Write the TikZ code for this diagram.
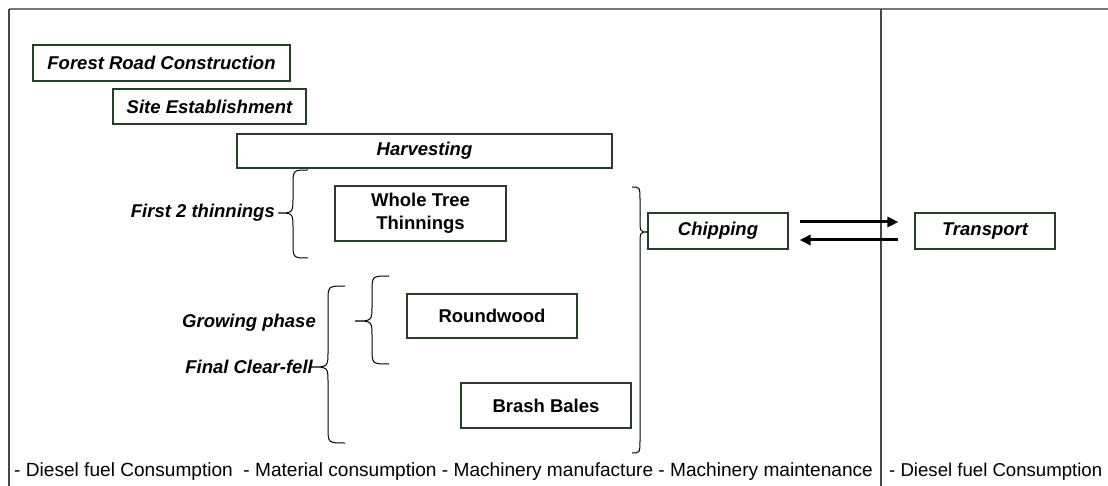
\documentclass[tikz,border=0pt]{standalone}
\usepackage{fontspec}
\setmainfont{Liberation Sans}
\usetikzlibrary{arrows.meta}
\definecolor{boxc}{RGB}{40,62,40}
\definecolor{framec}{RGB}{70,70,70}
\definecolor{topc}{RGB}{120,120,120}
\newcommand{\mybraceL}[6]{% x, top, tip, bottom, rh, rv
  \draw[bracestyle] (#1+#5,#2) .. controls (#1,#2) .. (#1,#2+#6) -- (#1,#3-#6)
    .. controls (#1,#3) .. (#1-#5,#3) .. controls (#1,#3) .. (#1,#3+#6)
    -- (#1,#4-#6) .. controls (#1,#4) .. (#1+#5,#4);}
\newcommand{\mybraceR}[6]{%
  \draw[bracestyle] (#1-#5,#2) .. controls (#1,#2) .. (#1,#2+#6) -- (#1,#3-#6)
    .. controls (#1,#3) .. (#1+#5,#3) .. controls (#1,#3) .. (#1,#3+#6)
    -- (#1,#4-#6) .. controls (#1,#4) .. (#1-#5,#4);}
\begin{document}
\begin{tikzpicture}[x=1pt,y=-1pt,
  every node/.style={font=\fontsize{18.5}{22.5}\selectfont},
  box/.style={draw=boxc,line width=1.1pt,inner sep=0pt,rectangle},
  itbox/.style={box,font=\fontsize{18.5}{22.5}\selectfont\bfseries\itshape},
  bfbox/.style={box,font=\fontsize{18.5}{22.5}\selectfont\bfseries,align=center},
  lbl/.style={inner sep=0pt,font=\fontsize{18.5}{22.5}\selectfont\bfseries\itshape},
  foot/.style={inner sep=0pt,font=\fontsize{19.1}{23}\selectfont},
  foottwo/.style={inner sep=0pt,font=\fontsize{18.6}{23}\selectfont},
  bracestyle/.style={draw=black,line width=1pt},
  arr/.style={line width=3pt,-{Triangle[length=11pt,width=10pt]}}]
\useasboundingbox (0,0) rectangle (1108,486);
% frame
\draw[topc,line width=1.5pt] (9,9) -- (1108,9);
\draw[framec,line width=1.5pt] (9,486) -- (9,9);
\draw[framec,line width=1.5pt] (881,9) -- (881,486);
% boxes
\node[itbox,minimum width=257pt,minimum height=36pt] (forest) at (161.5,63) {Forest Road Construction};
\node[itbox,minimum width=193pt,minimum height=35pt] (site) at (209.5,106.5) {Site Establishment};
\node[itbox,minimum width=375pt,minimum height=34pt] (harv) at (424.5,151) {Harvesting};
\node[bfbox,minimum width=171pt,minimum height=55pt] (whole) at (420.5,213.5) {Whole Tree\\Thinnings};
\node[bfbox,minimum width=170pt,minimum height=44pt] (round) at (492,316) {Roundwood};
\node[bfbox,minimum width=170pt,minimum height=45pt] (brash) at (546,405.5) {Brash Bales};
\node[itbox,minimum width=140pt,minimum height=36pt] (chip) at (718,231) {Chipping};
\node[itbox,minimum width=140pt,minimum height=36pt] (trans) at (985,231) {Transport};
% braces
\mybraceL{293}{170}{213}{258}{15}{16}
\mybraceL{372}{276}{321}{364}{17}{16}
\mybraceL{328}{286}{367}{443}{17}{16}
\mybraceR{640}{187}{232}{453}{8}{14}
% labels
\node[lbl,anchor=east] (first) at (275,213) {First 2 thinnings};
\node[lbl,anchor=east] (grow) at (316,323) {Growing phase};
\node[lbl,anchor=east] (final) at (313,367) {Final Clear-fell};
% arrows
\draw[arr,shorten <=11pt,shorten >=16pt] ([yshift=9pt]chip.east) -- ([yshift=9pt]trans.west);
\draw[arr,shorten <=16pt,shorten >=11pt] ([yshift=-9pt]trans.west) -- ([yshift=-9pt]chip.east);
% footer
\node[foot,anchor=base west] (foot1) at (14,476) {- Diesel fuel Consumption\ \ - Material consumption - Machinery manufacture - Machinery maintenance};
\node[foottwo,anchor=base west] (foot2) at (889,476) {- Diesel fuel Consumption};
\end{tikzpicture}
\end{document}
